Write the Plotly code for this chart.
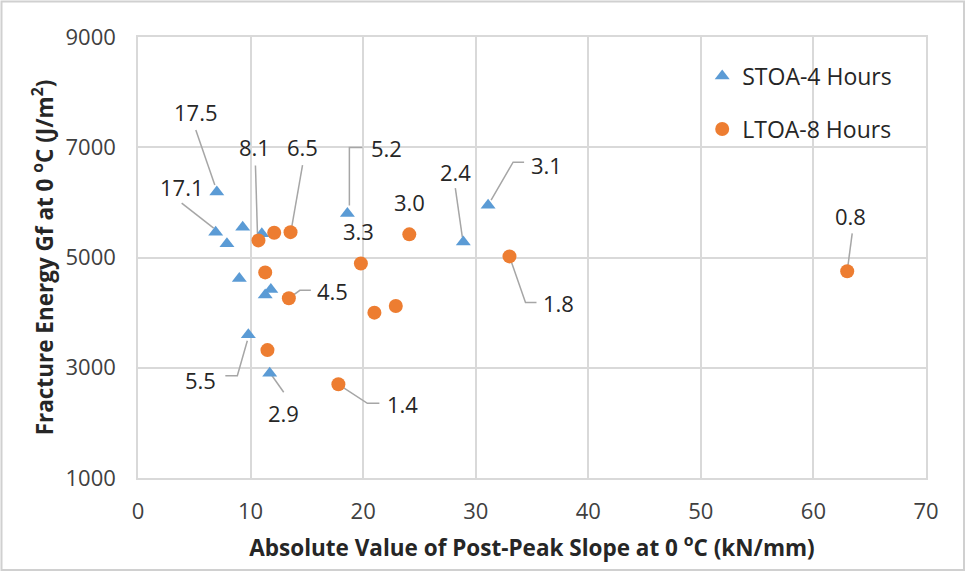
import plotly.graph_objects as go

# ---------------- data ----------------
stoa_x = [7.0, 6.9, 9.3, 7.9, 11.0, 18.6, 9.0, 11.8, 11.3, 9.8, 11.7, 28.9, 31.1]
stoa_y = [6190, 5460, 5550, 5250, 5430, 5800, 4620, 4420, 4320, 3600, 2900, 5280, 5950]
stoa_labels = ["17.5", "17.1", "", "", "", "5.2", "", "", "", "5.5", "2.9", "2.4", "3.1"]

ltoa_x = [10.7, 12.1, 13.55, 11.3, 13.4, 11.5, 19.8, 21.0, 22.9, 17.8, 24.1, 33.0, 63.0]
ltoa_y = [5310, 5450, 5460, 4730, 4260, 3320, 4890, 4000, 4120, 2700, 5420, 5020, 4750]
ltoa_labels = ["8.1", "", "6.5", "", "4.5", "", "3.3", "", "", "1.4", "3.0", "1.8", "0.8"]

x_ticks = [0, 10, 20, 30, 40, 50, 60, 70]
y_ticks = [1000, 3000, 5000, 7000, 9000]

# ---------------- label placement (screen px offsets, y down) ----------------
stoa_label_pos = {
    0: ((-21, -80), [(-21, -62), (-2, -7)]),
    1: ((-34, -45), [(-34, -29), (-2, -4)]),
    5: ((39, -65), [(2, -8), (2, -66), (15, -66)]),
    9: ((-48, 45), [(-1, 6), (-11, 41), (-23, 41)]),
    10: ((14, 40), [(2, 2), (14, 19)]),
    11: ((-8, -70), [(-8, -54), (-1, -5)]),
    12: ((58, -40), [(3, -5), (25, -43), (36, -43)]),
}
ltoa_label_pos = {
    0: ((-4, -93), [(-3, -75), (-1, -7)]),
    2: ((12, -85), [(12, -67), (1, -4)]),
    4: ((44, -7), [(0, 0), (11, -8), (22, -8)]),
    6: ((-2, -33), []),
    9: ((64, 20), [(0, 0), (29, 19), (41, 19)]),
    10: ((0, -32), []),
    11: ((49, 47), [(0, 0), (16, 46), (27, 46)]),
    12: ((3, -55), [(5, -38), (0, 0)]),
}

FONT = "'Open Sans', 'Segoe UI', sans-serif"
BLUE = "#5B9BD5"
ORANGE = "#ED7D31"
GRID = "#D9D9D9"
TXT = "#262626"
TICK = "#404040"
LEADER = "#A6A6A6"

fig = go.Figure()
fig.add_trace(go.Scatter(
    x=stoa_x, y=stoa_y, mode="markers", name="STOA-4 Hours",
    legendgroup="a",
    marker=dict(symbol="triangle-up", size=13, color=BLUE),
))
fig.add_trace(go.Scatter(
    x=ltoa_x, y=ltoa_y, mode="markers", name="LTOA-8 Hours",
    legendgroup="b",
    marker=dict(symbol="circle", size=14, color=ORANGE),
))

annotations = []
shapes = []


def add_labels(xs, ys, labels, pos):
    for i, lab in enumerate(labels):
        if not lab or i not in pos:
            continue
        (dx, dy), path = pos[i]
        annotations.append(dict(
            x=xs[i], y=ys[i], xref="x", yref="y", text=lab, showarrow=False,
            xshift=dx, yshift=-dy, font=dict(family=FONT, size=22, color=TXT),
        ))
        if len(path) >= 2:
            d = "M" + " L".join(f"{px},{-py}" for px, py in path)
            shapes.append(dict(
                type="path", xref="x", yref="y", xsizemode="pixel", ysizemode="pixel",
                xanchor=xs[i], yanchor=ys[i], path=d, layer="between",
                line=dict(color=LEADER, width=1.5),
            ))


add_labels(stoa_x, stoa_y, stoa_labels, stoa_label_pos)
add_labels(ltoa_x, ltoa_y, ltoa_labels, ltoa_label_pos)

W, H = 967, 573
ML, MR, MT, MB = 138, 41, 37, 95
pw, ph = W - ML - MR, H - MT - MB
# outer chart border
shapes.append(dict(
    type="rect", xref="paper", yref="paper",
    x0=-(ML - 1.5) / pw, x1=1 + (MR - 3) / pw,
    y0=-(MB - 3) / ph, y1=1 + (MT - 1.5) / ph,
    line=dict(color="#D0D0D0", width=2), layer="below",
))

fig.update_layout(
    width=W, height=H,
    margin=dict(l=ML, r=MR, t=MT, b=MB, autoexpand=False),
    paper_bgcolor="white", plot_bgcolor="white",
    font=dict(family=FONT, color=TICK),
    showlegend=True,
    legend=dict(
        x=0.716, y=0.96, xanchor="left", yanchor="top",
        font=dict(family=FONT, size=23, color=TXT),
        bgcolor="rgba(255,255,255,0)", tracegroupgap=20,
        traceorder="grouped",
    ),
    annotations=annotations,
    shapes=shapes,
    xaxis=dict(
        range=[0, 70], tickvals=x_ticks, ticktext=[str(v) for v in x_ticks],
        showgrid=True, gridcolor=GRID, gridwidth=1.5, zeroline=False,
        showline=True, linecolor=GRID, linewidth=1.5, mirror=True,
        ticks="outside", ticklen=13, tickcolor="rgba(0,0,0,0)",
        tickfont=dict(family=FONT, size=22, color=TICK),
        automargin=False,
        title=dict(text="<b>Absolute Value of Post-Peak Slope at 0 <sup>o</sup>C (kN/mm)</b>",
                   font=dict(family=FONT, size=22.5, color=TXT), standoff=16),
    ),
    yaxis=dict(
        range=[1000, 9000], tickvals=y_ticks, ticktext=[str(v) for v in y_ticks],
        showgrid=True, gridcolor=GRID, gridwidth=1.5, zeroline=False,
        showline=True, linecolor=GRID, linewidth=1.5, mirror=True,
        ticks="outside", ticklen=16, tickcolor="rgba(0,0,0,0)",
        tickfont=dict(family=FONT, size=22, color=TICK),
        automargin=False,
        title=dict(text="<b>Fracture Energy Gf at 0 <sup>o</sup>C (J/m<sup>2</sup>)</b>",
                   font=dict(family=FONT, size=22.5, color=TXT), standoff=6),
    ),
)

fig.write_html("out.html", config={"displayModeBar": False},
               post_script="document.body.style.margin='0px';")
